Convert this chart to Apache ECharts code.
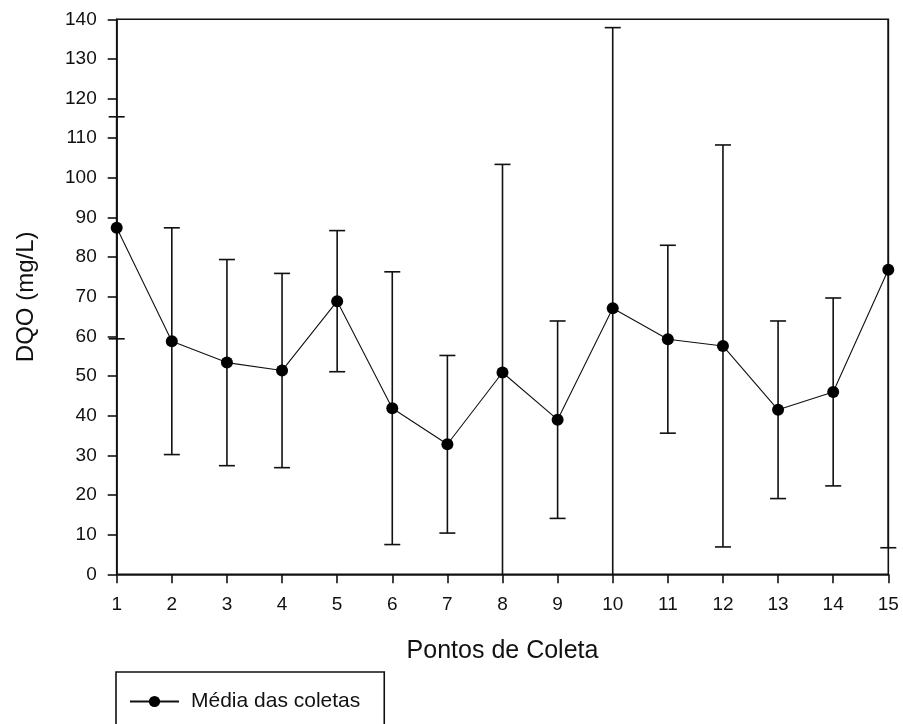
<!DOCTYPE html>
<html>
<head>
<meta charset="utf-8">
<title>DQO por ponto de coleta</title>
<script src="https://cdn.jsdelivr.net/npm/echarts@6/dist/echarts.min.js"></script>
<style>
  html, body { margin: 0; padding: 0; background: #fff; }
  #chart { width: 903px; height: 724px; }
</style>
</head>
<body>
<div id="chart"></div>
<script>
// Sampling points (x) and mean COD per point with its standard deviation
const pontos = [1, 2, 3, 4, 5, 6, 7, 8, 9, 10, 11, 12, 13, 14, 15];
const medias = [87.4, 58.8, 53.4, 51.4, 68.9, 41.9, 32.8, 50.9, 39.0, 67.1, 59.3, 57.6, 41.5, 46.0, 76.8];
const desvios = [28.0, 28.6, 26.0, 24.5, 17.8, 34.4, 22.4, 52.5, 24.9, 70.8, 23.7, 50.7, 22.4, 23.7, 70.1];

const Y_MIN = 0, Y_MAX = 140;
const FONT = '"Liberation Sans", Arial, sans-serif';

const serieMedia = pontos.map((p, i) => [p, medias[i]]);
const serieErro = pontos.map((p, i) => [p, medias[i] - desvios[i], medias[i] + desvios[i]]);

const chart = echarts.init(document.getElementById('chart'), null, { renderer: 'canvas' });

// Error bar: vertical whisker with caps, cut at the axis limits
function renderErro(params, api) {
  const x = api.value(0);
  const lo = api.value(1), hi = api.value(2);
  const loC = Math.max(lo, Y_MIN), hiC = Math.min(hi, Y_MAX);
  const pLo = api.coord([x, loC]);
  const pHi = api.coord([x, hiC]);
  const half = 8;
  const style = { stroke: '#111', lineWidth: 1.6, fill: null };
  const children = [{
    type: 'line', shape: { x1: pLo[0], y1: pLo[1], x2: pHi[0], y2: pHi[1] }, style
  }];
  if (hi <= Y_MAX) children.push({
    type: 'line', shape: { x1: pHi[0] - half, y1: pHi[1], x2: pHi[0] + half, y2: pHi[1] }, style
  });
  if (lo >= Y_MIN) children.push({
    type: 'line', shape: { x1: pLo[0] - half, y1: pLo[1], x2: pLo[0] + half, y2: pLo[1] }, style
  });
  return { type: 'group', children };
}

const axisLine = { show: true, lineStyle: { color: '#111', width: 1.6 } };
const axisTick = { show: true, inside: false, length: 9, lineStyle: { color: '#111', width: 1.6 } };

chart.setOption({
  backgroundColor: '#fff',
  animation: false,
  grid: {
    left: 116.7, right: 14.7, top: 19.3, bottom: 149.7,
    show: true, borderColor: '#111', borderWidth: 1.6, backgroundColor: 'transparent'
  },
  xAxis: {
    type: 'value', min: 1, max: 15, interval: 1,
    name: 'Pontos de Coleta', nameLocation: 'middle', nameGap: 64,
    nameTextStyle: { fontFamily: FONT, fontSize: 25, color: '#111' },
    axisLine, axisTick,
    axisLabel: { fontFamily: FONT, fontSize: 19, color: '#111', margin: 21 },
    splitLine: { show: false }
  },
  yAxis: {
    type: 'value', min: Y_MIN, max: Y_MAX, interval: 10,
    name: 'DQO (mg/L)', nameLocation: 'middle', nameGap: 78, nameRotate: 90,
    nameTextStyle: { fontFamily: FONT, fontSize: 24, color: '#111' },
    axisLine, axisTick,
    axisLabel: { fontFamily: FONT, fontSize: 19, color: '#111', margin: 20 },
    splitLine: { show: false }
  },
  legend: {
    show: true, left: 116, top: 672, orient: 'horizontal',
    padding: [19, 24, 60, 13],
    borderColor: '#111', borderWidth: 1.6, backgroundColor: '#fff',
    itemWidth: 49, itemHeight: 14,
    lineStyle: { width: 2, color: '#111' },
    textStyle: { fontFamily: FONT, fontSize: 21, color: '#111', padding: [0, 0, 0, 7] },
    data: ['Média das coletas']
  },
  series: [
    {
      name: 'Desvio', type: 'custom', renderItem: renderErro,
      data: serieErro, encode: { x: 0, y: [1, 2] }, z: 2, clip: false
    },
    {
      name: 'Média das coletas', type: 'line', data: serieMedia,
      symbol: 'circle', symbolSize: 12,
      itemStyle: { color: '#000' },
      lineStyle: { color: '#111', width: 1.1 },
      z: 3
    }
  ]
});
</script>
</body>
</html>
